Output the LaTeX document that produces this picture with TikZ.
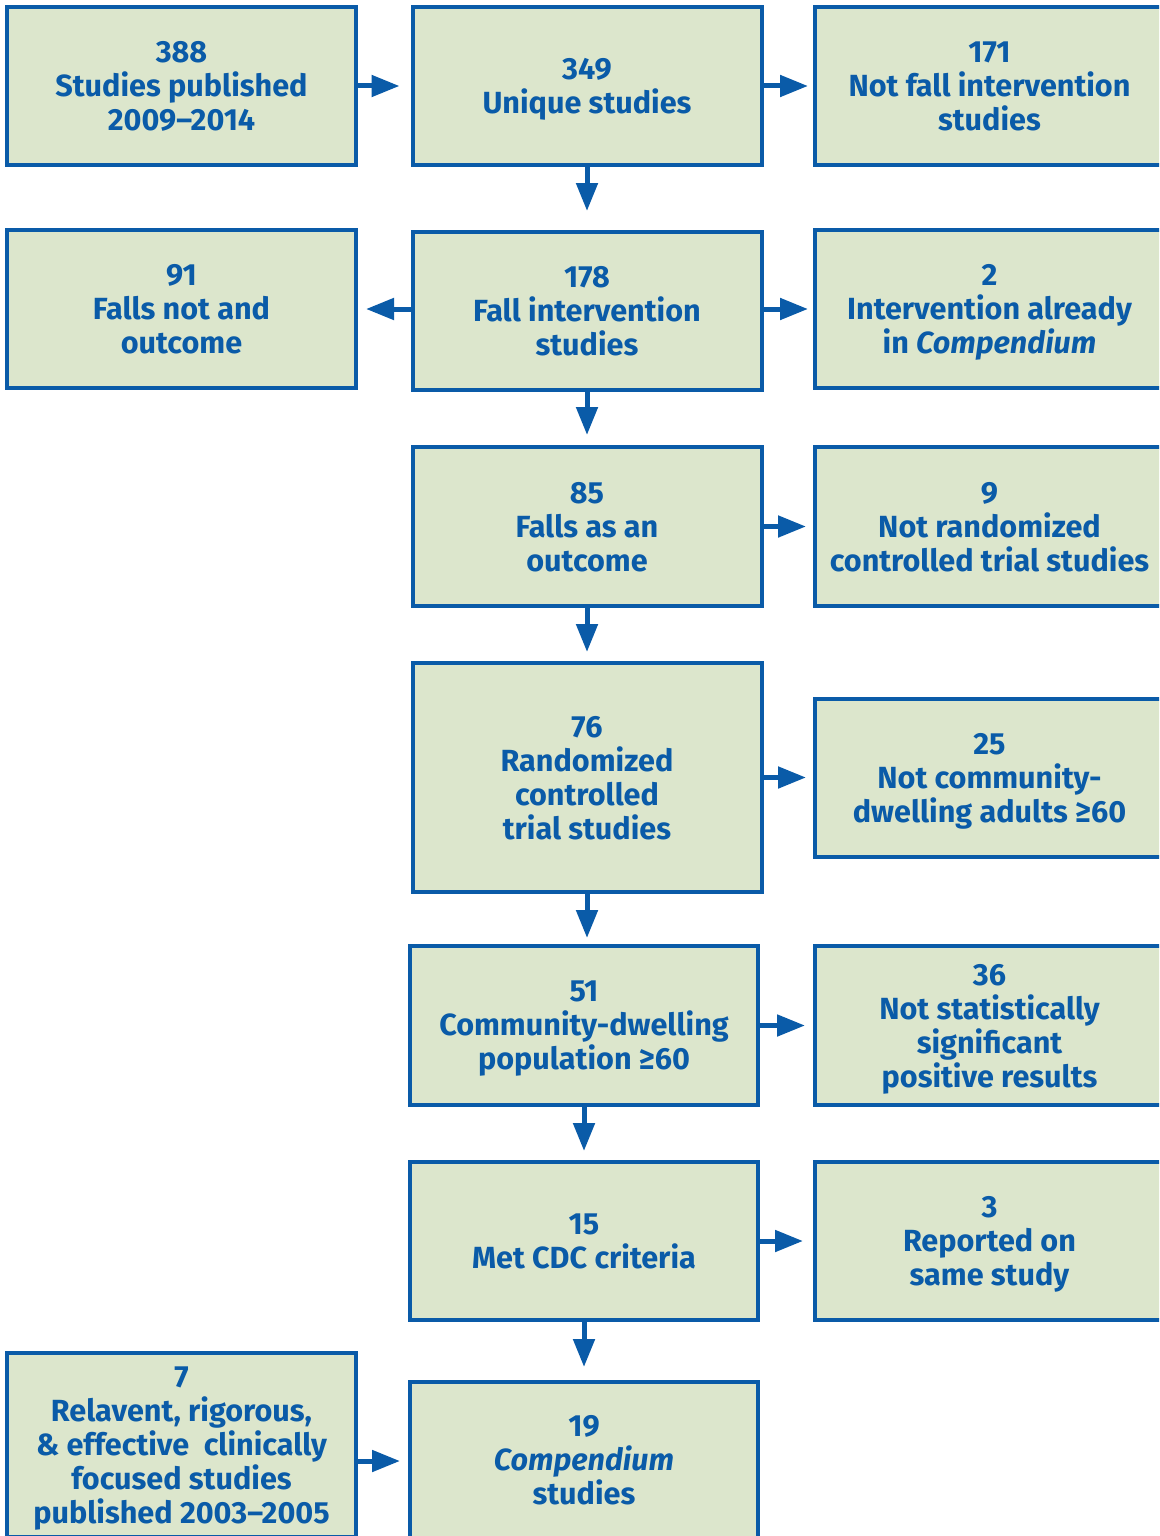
\documentclass[tikz,border=0pt]{standalone}
\usepackage{fontspec}
\setmainfont{Fira Sans}
\usetikzlibrary{arrows.meta}
\definecolor{bblue}{HTML}{0A5BA8}
\definecolor{bgreen}{HTML}{DCE6CC}
\begin{document}
\begin{tikzpicture}[x=1pt,y=-1pt,
  box/.style={draw=bblue, fill=bgreen, line width=4pt, minimum width=349pt,
    inner sep=0pt, align=center, text=bblue, text depth=0pt,
    font=\fontsize{30.6}{34}\selectfont\bfseries},
  arr/.style={draw=bblue, line width=5pt, -{Triangle[length=28pt,width=21pt]}}]
\useasboundingbox (0,0) rectangle (1159,1536);
\clip (0,0) rectangle (1159,1536);
% row 1
\node[box, minimum height=158pt] (b388) at (181.5,86) {388\\Studies published\\2009–2014};
\node[box, minimum height=158pt] (b349) at (587,86) {349\\Unique studies};
\node[box, minimum height=158pt] (b171) at (989.5,86) {171\\Not fall intervention\\studies};
% row 2
\node[box, minimum height=158pt] (b91) at (181.5,309) {91\\Falls not and\\outcome};
\node[box, minimum height=158pt] (b178) at (587,311) {178\\Fall intervention\\studies};
\node[box, minimum height=158pt] (b2) at (989.5,309) {2\\Intervention already\\in \textit{Compendium}};
% row 3
\node[box, minimum height=159pt] (b85) at (587,526.5) {85\\Falls as an\\outcome};
\node[box, minimum height=159pt] (b9) at (989.5,526.5) {9\\Not randomized\\controlled trial studies};
% row 4
\node[box, minimum height=229pt] (b76) at (587,777.5) {76\\Randomized\\controlled\\trial studies};
\node[box, minimum height=158pt] (b25) at (989.5,778) {25\\Not community-\\dwelling adults ≥60};
% row 5
\node[box, minimum width=348pt, minimum height=159pt] (b51) at (584,1025.5) {51\\Community-dwelling\\population ≥60};
\node[box, minimum height=159pt] (b36) at (989.5,1025.5) {36\\Not statistically\\significant\\positive results};
% row 6
\node[box, minimum width=348pt, minimum height=158pt] (b15) at (584,1241) {15\\Met CDC criteria};
\node[box, minimum height=158pt] (b3) at (989.5,1241) {3\\Reported on\\same study};
% row 7
\node[box, minimum height=184pt] (b7) at (181.5,1445) {7\\Relavent, rigorous,\\\& effective\ \ clinically\\focused studies\\published 2003–2005};
\node[box, minimum width=348pt, minimum height=156pt] (b19) at (584,1460) {19\\\textit{Compendium}\\studies};
% arrows
\draw[arr, shorten >=11pt] (b388.east) -- (b388.east -| b349.west);
\draw[arr, shorten >=5pt] (b349.east) -- (b349.east -| b171.west);
\draw[arr, shorten >=19pt] (b349.south) -- (b178.north);
\draw[arr, shorten >=8pt] ([yshift=2pt]b178.west) -- ([yshift=2pt]b178.west -| b91.east);
\draw[arr, shorten >=5pt] ([yshift=2pt]b178.east) -- ([yshift=2pt]b178.east -| b2.west);
\draw[arr, shorten >=10pt] (b178.south) -- (b85.north);
\draw[arr, shorten >=7pt] (b85.east) -- (b85.east -| b9.west);
\draw[arr, shorten >=9pt] (b85.south) -- (b85.south |- b76.north);
\draw[arr, shorten >=7pt] (b76.east) -- (b76.east -| b25.west);
\draw[arr, shorten >=6pt] (b76.south) -- (b76.south |- b51.north);
\draw[arr, shorten >=8pt] (b51.east) -- (b51.east -| b36.west);
\draw[arr, shorten >=9pt] (b51.south) -- (b15.north);
\draw[arr, shorten >=10pt] (b15.east) -- (b15.east -| b3.west);
\draw[arr, shorten >=13pt] (b15.south) -- (b19.north);
\draw[arr, shorten >=8pt] ([yshift=-16pt]b7.east) -- ([yshift=-16pt]b7.east -| b19.west);
\end{tikzpicture}
\end{document}
